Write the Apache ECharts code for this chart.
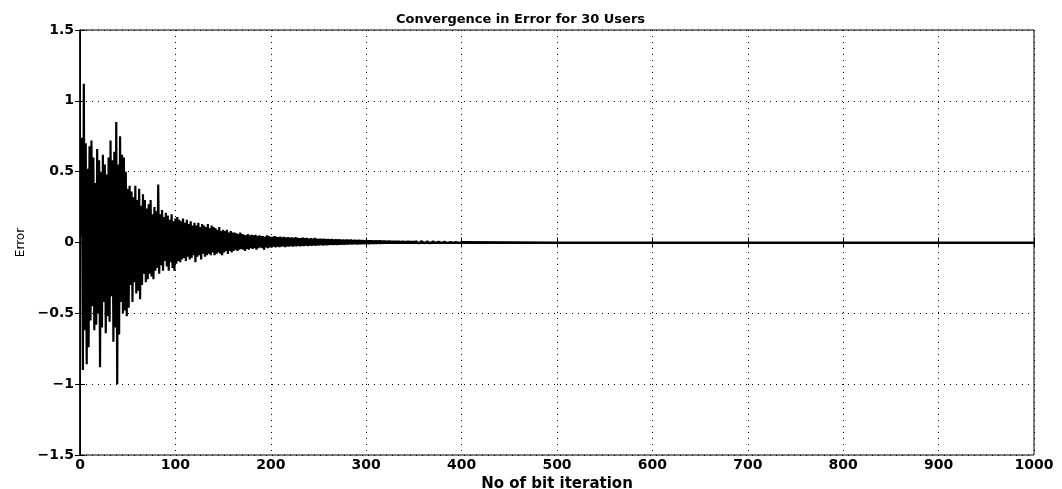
<!DOCTYPE html>
<html>
<head>
<meta charset="utf-8">
<script src="https://cdn.jsdelivr.net/npm/echarts@6/dist/echarts.min.js"></script>
<style>
  html, body { margin: 0; padding: 0; background: #fff; }
  #chart { width: 1062px; height: 489px; }
</style>
</head>
<body>
<div id="chart"></div>
<script>
// error per bit iteration (iterations 1..400)
const errHead = [
  0.05, 0.74, -0.9, 1.12, -0.62, 0.7, -0.86, 0.52, -0.74, 0.68,
  -0.55, 0.72, -0.45, 0.6, -0.62, 0.42, -0.58, 0.66, -0.5, 0.58,
  -0.88, 0.5, -0.6, 0.62, -0.42, 0.55, -0.64, 0.48, -0.52, 0.6,
  -0.56, 0.72, -0.38, 0.58, -0.7, 0.64, -0.6, 0.85, -1.0, 0.55,
  -0.65, 0.75, -0.42, 0.62, -0.5, 0.6, -0.48, 0.5, -0.52, 0.38,
  -0.46, 0.4, -0.3, 0.36, -0.42, 0.32, -0.28, 0.4, -0.36, 0.3,
  -0.34, 0.38, -0.4, 0.26, -0.3, 0.34, -0.22, 0.3, -0.28, 0.24,
  -0.26, 0.27, -0.22, 0.3, -0.24, 0.2, -0.26, 0.25, -0.2, 0.22,
  -0.18, 0.41, -0.22, 0.2, -0.16, 0.23, -0.2, 0.18, -0.13, 0.21,
  -0.17, 0.19, -0.2, 0.16, -0.14, 0.2, -0.18, 0.15, -0.2, 0.17,
  -0.15, 0.18, -0.13, 0.16, -0.14, 0.15, -0.12, 0.17, -0.11, 0.14,
  -0.13, 0.16, -0.1, 0.13, -0.12, 0.15, -0.11, 0.12, -0.09, 0.14,
  -0.14, 0.12, -0.1, 0.14, -0.09, 0.11, -0.12, 0.13, -0.08, 0.12,
  -0.1, 0.11, -0.09, 0.13, -0.08, 0.1, -0.09, 0.12, -0.07, 0.11,
  -0.09, 0.1, -0.08, 0.09, -0.07, 0.11, -0.08, 0.08, -0.09, 0.09,
  -0.07, 0.08, -0.06, 0.09, -0.08, 0.07, -0.06, 0.08, -0.07, 0.07,
  -0.06, 0.07, -0.05, 0.065, -0.06, 0.06, -0.05, 0.07, -0.045, 0.06,
  -0.05, 0.055, -0.06, 0.05, -0.045, 0.06, -0.05, 0.05, -0.04, 0.055,
  -0.045, 0.05, -0.04, 0.055, -0.05, 0.045, -0.04, 0.05, -0.035, 0.045,
  -0.04, 0.045, -0.05, 0.04, -0.035, 0.05, -0.04, 0.045, -0.035, 0.04,
  -0.035, 0.04, -0.03, 0.045, -0.035, 0.04, -0.03, 0.038, -0.032, 0.042,
  -0.03, 0.036, -0.028, 0.04, -0.032, 0.035, -0.027, 0.038, -0.03, 0.034,
  -0.026, 0.036, -0.03, 0.032, -0.025, 0.038, -0.028, 0.033, -0.024, 0.03,
  -0.027, 0.032, -0.023, 0.035, -0.026, 0.03, -0.022, 0.032, -0.025, 0.028,
  -0.022, 0.03, -0.024, 0.027, -0.02, 0.032, -0.023, 0.028, -0.02, 0.026,
  -0.021, 0.028, -0.019, 0.025, -0.022, 0.027, -0.018, 0.024, -0.02, 0.026,
  -0.018, 0.024, -0.017, 0.026, -0.019, 0.022, -0.016, 0.024, -0.018, 0.021,
  -0.016, 0.023, -0.017, 0.02, -0.015, 0.022, -0.016, 0.019, -0.014, 0.021,
  -0.015, 0.019, -0.013, 0.021, -0.015, 0.018, -0.013, 0.02, -0.012, 0.018,
  -0.014, 0.019, -0.012, 0.017, -0.013, 0.018, -0.011, 0.016, -0.012, 0.017,
  -0.011, 0.016, -0.012, 0.015, -0.01, 0.016, -0.011, 0.014, -0.01, 0.015,
  -0.01, 0.014, -0.009, 0.015, -0.01, 0.013, -0.009, 0.014, -0.008, 0.013,
  -0.009, 0.012, -0.008, 0.013, -0.009, 0.012, -0.008, 0.011, -0.007, 0.012,
  -0.008, 0.011, -0.007, 0.012, -0.008, 0.01, -0.007, 0.011, -0.006, 0.01,
  -0.007, 0.01, -0.006, 0.011, -0.007, 0.009, -0.006, 0.01, -0.006, 0.009,
  -0.006, 0.009, -0.005, 0.01, -0.006, 0.008, -0.005, 0.009, -0.005, 0.008,
  -0.005, 0.008, -0.005, 0.008, -0.004, 0.007, -0.005, 0.007, -0.004, 0.007,
  -0.004, 0.007, -0.004, 0.006, -0.004, 0.006, -0.003, 0.006, -0.003, 0.005,
  -0.003, 0.005, -0.003, 0.005, -0.003, 0.004, -0.003, 0.004, -0.002, 0.004,
  -0.002, 0.004, -0.002, 0.003, -0.002, 0.003, -0.002, 0.003, -0.001, 0.002
];
// after ~400 iterations the error has settled at zero
const tailIter = [401, 500, 600, 700, 800, 900, 1000];
const tailErr = [0, 0, 0, 0, 0, 0, 0];

const points = errHead.map((v, i) => [i + 1, v]);
tailIter.forEach((x, i) => points.push([x, tailErr[i]]));

const font = 'DejaVu Sans';
const minusFmt = v => String(v).replace('-', '\u2212');

const chart = echarts.init(document.getElementById('chart'));

const tickStyle = { inside: true, length: 5, lineStyle: { color: '#000', width: 1 } };
const gridDots = { show: true, lineStyle: { color: '#000', width: 1, type: [1, 5] } };

chart.setOption({
  animation: false,
  backgroundColor: '#fff',
  title: {
    text: 'Convergence in Error for 30 Users',
    left: 391, top: 8,
    textStyle: { fontFamily: font, fontSize: 13, fontWeight: 'bold', color: '#000' }
  },
  grid: {
    left: 80, right: 28, top: 30, bottom: 34,
    outerBoundsMode: 'none',
    show: true, borderColor: '#000', borderWidth: 1
  },
  xAxis: [
    {
      type: 'value', min: 0, max: 1000, interval: 100,
      name: 'No of bit iteration', nameLocation: 'middle', nameGap: 20,
      nameTextStyle: { fontFamily: font, fontSize: 15, fontWeight: 'bold', color: '#000' },
      axisLine: { show: true, lineStyle: { color: '#000', width: 1.5 } },
      axisTick: tickStyle,
      axisLabel: {
        color: '#000', fontFamily: font, fontSize: 14, fontWeight: 'bold', margin: 3,
        formatter: v => String(v)
      },
      splitLine: gridDots
    },
    {
      type: 'value', min: 0, max: 1000, interval: 100, position: 'top',
      axisLine: { show: true, lineStyle: { color: '#000', width: 1.5 } },
      axisTick: tickStyle, axisLabel: { show: false }, splitLine: { show: false }
    }
  ],
  yAxis: [
    {
      type: 'value', min: -1.5, max: 1.5, interval: 0.5,
      name: 'Error', nameLocation: 'middle', nameGap: 36, nameRotate: 90,
      nameTextStyle: { fontFamily: font, fontSize: 12, color: '#000' },
      axisLine: { show: true, lineStyle: { color: '#000', width: 1.5 } },
      axisTick: tickStyle,
      axisLabel: {
        color: '#000', fontFamily: font, fontSize: 14, fontWeight: 'bold', margin: 6,
        formatter: minusFmt
      },
      splitLine: gridDots
    },
    {
      type: 'value', min: -1.5, max: 1.5, interval: 0.5, position: 'right',
      axisLine: { show: true, lineStyle: { color: '#000', width: 1 } },
      axisTick: tickStyle, axisLabel: { show: false }, splitLine: { show: false }
    }
  ],
  series: [
    {
      type: 'line',
      data: points,
      showSymbol: false,
      symbol: 'none',
      sampling: null,
      lineStyle: { color: '#000', width: 2.2 },
      z: 3
    }
  ]
});
</script>
</body>
</html>
